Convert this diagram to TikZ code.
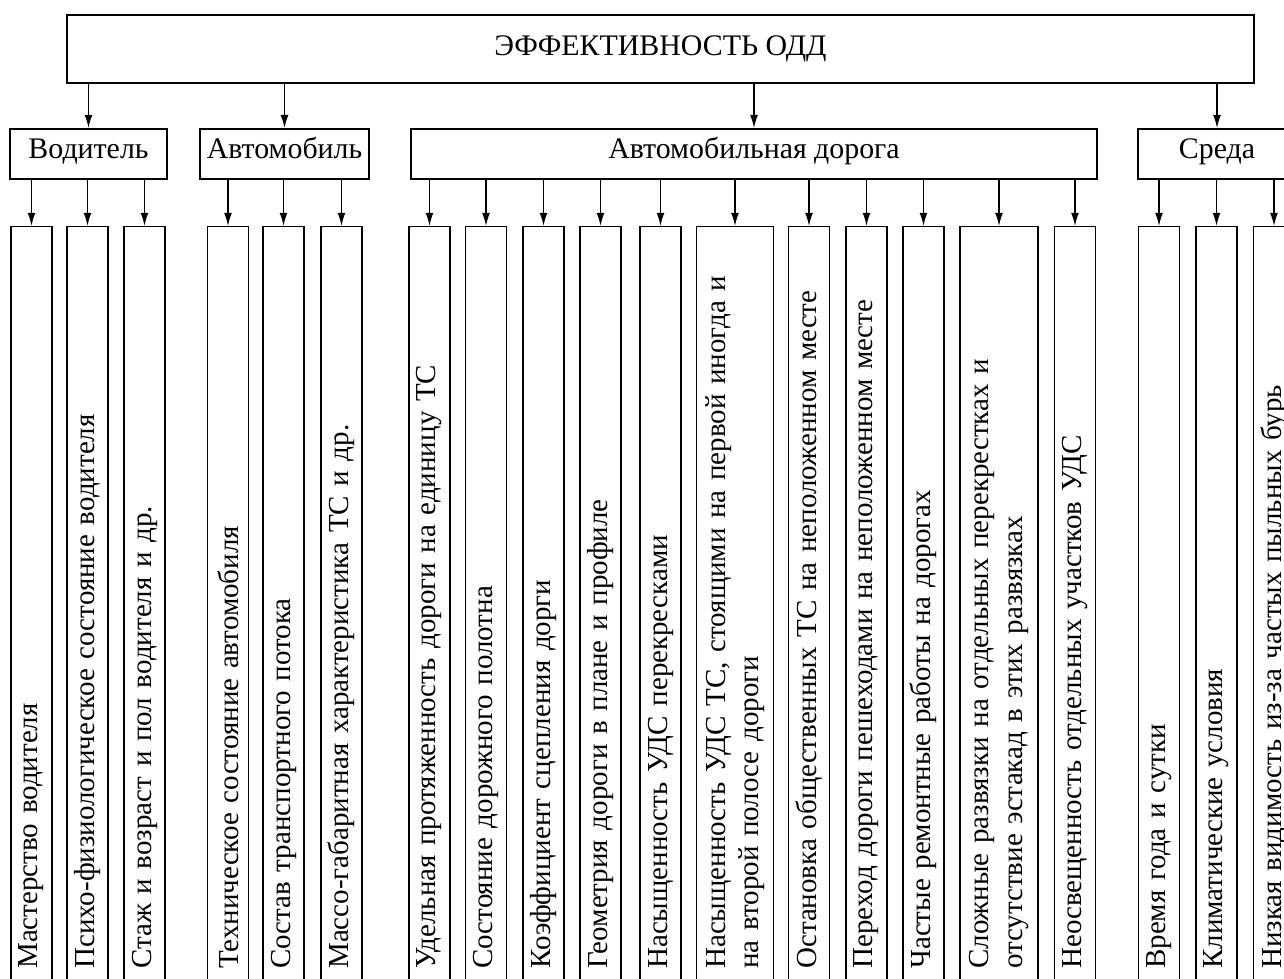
\documentclass[tikz,border=0pt]{standalone}
\usepackage{fontspec}
\setmainfont{Liberation Serif}
\usetikzlibrary{arrows.meta}
\newdimen\pxu
\pxu=0.02cm

\begin{document}
\begin{tikzpicture}[x=0.02cm,y=-0.02cm,>={Latex[length=7.5pt,width=4.5pt]},
  every node/.style={font=\fontsize{17}{19}\selectfont},
  title/.style={draw,line width=1.6pt,minimum width=1187\pxu,
    minimum height=68\pxu},
  group/.style={draw,line width=1pt,minimum height=50\pxu,inner sep=0pt,
    text height=0.72em,text depth=0.22em},
  leaf/.style={draw,line width=0.8pt,rotate=90,anchor=east,
    font=\fontsize{16.5}{19}\selectfont,
    minimum height=#1,text width=720\pxu,inner xsep=22\pxu,
    inner ysep=0pt,align=left},
  leaf/.default=41\pxu,
  link/.style={->,line width=0.8pt}]
\useasboundingbox (0,0) rectangle (1284,979);
% top level
\node[title] (eff) at (660.5,49) {ЭФФЕКТИВНОСТЬ ОДД};
% groups
\node[group,minimum width=157\pxu] (drv) at (88.5,154) {Водитель};
\node[group,minimum width=169\pxu] (car) at (284.5,154) {Автомобиль};
\node[group,minimum width=686\pxu] (road) at (754,154) {Автомобильная дорога};
\node[group,minimum width=158\pxu] (env) at (1217,154) {Среда};
% driver
\node[leaf] (d1) at (31.5,226) {Мастерство водителя};
\node[leaf] (d2) at (87.5,226) {Психо-физиологическое состояние водителя};
\node[leaf] (d3) at (144.5,226) {Стаж и возраст и пол водителя и др.};
% car
\node[leaf] (a1) at (228,226) {Техническое состояние автомобиля};
\node[leaf] (a2) at (283.5,226) {Состав транспортного потока};
\node[leaf] (a3) at (341.5,226) {Массо-габаритная характеристика ТС и др.};
% road
\node[leaf] (r1) at (429.5,226) {Удельная протяженность дороги на единицу ТС};
\node[leaf] (r2) at (486,226) {Состояние дорожного полотна};
\node[leaf] (r3) at (543.5,226) {Коэффициент сцепления дорги};
\node[leaf] (r4) at (600.5,226) {Геометрия дороги в плане и профиле};
\node[leaf] (r5) at (660.5,226) {Насыщенность УДС перекресками};
\node[leaf=77\pxu] (r6) at (735,226)
  {Насыщенность УДС ТС, стоящими на первой иногда и\\на второй полосе дороги};
\node[leaf] (r7) at (809,226) {Остановка общественных ТС на неположенном месте};
\node[leaf] (r8) at (866.5,226) {Переход дороги пешеходами на неположенном месте};
\node[leaf] (r9) at (923.5,226) {Частые ремонтные работы на дорогах};
\node[leaf=78\pxu] (r10) at (999,226)
  {Сложные развязки на отдельных перекрестках и\\отсутствие эстакад в этих развязках};
\node[leaf] (r11) at (1075,226) {Неосвещенность отдельных участков УДС};
% environment
\node[leaf] (e1) at (1159,226) {Время года и сутки};
\node[leaf] (e2) at (1216.5,226) {Климатические условия};
\node[leaf] (e3) at (1274,226) {Низкая видимость из-за частых пыльных бурь};
% arrows
\draw[link] (eff.south -| drv.north) -- (drv.north);
\draw[link] (eff.south -| car.north) -- (car.north);
\draw[link] (eff.south -| road.north) -- (road.north);
\draw[link] (eff.south -| env.north) -- (env.north);
\draw[link] (drv.south -| d1.east) -- (d1.east);
\draw[link] (drv.south -| d2.east) -- (d2.east);
\draw[link] (drv.south -| d3.east) -- (d3.east);
\draw[link] (car.south -| a1.east) -- (a1.east);
\draw[link] (car.south -| a2.east) -- (a2.east);
\draw[link] (car.south -| a3.east) -- (a3.east);
\draw[link] (road.south -| r1.east) -- (r1.east);
\draw[link] (road.south -| r2.east) -- (r2.east);
\draw[link] (road.south -| r3.east) -- (r3.east);
\draw[link] (road.south -| r4.east) -- (r4.east);
\draw[link] (road.south -| r5.east) -- (r5.east);
\draw[link] (road.south -| r6.east) -- (r6.east);
\draw[link] (road.south -| r7.east) -- (r7.east);
\draw[link] (road.south -| r8.east) -- (r8.east);
\draw[link] (road.south -| r9.east) -- (r9.east);
\draw[link] (road.south -| r10.east) -- (r10.east);
\draw[link] (road.south -| r11.east) -- (r11.east);
\draw[link] (env.south -| e1.east) -- (e1.east);
\draw[link] (env.south -| e2.east) -- (e2.east);
\draw[link] (env.south -| e3.east) -- (e3.east);
\end{tikzpicture}
\end{document}
